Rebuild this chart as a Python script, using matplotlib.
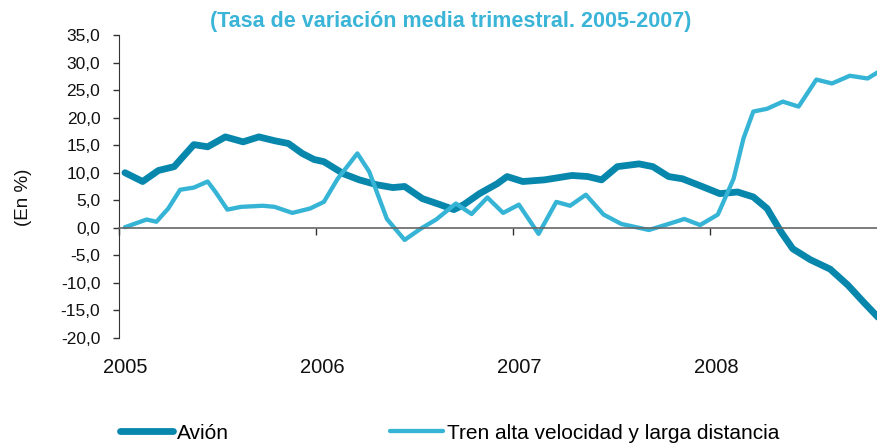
import matplotlib.pyplot as plt
import matplotlib.transforms as mtransforms
from matplotlib.ticker import FuncFormatter

plt.rcParams['font.family'] = ['Liberation Sans', 'DejaVu Sans']

# fecha (años fraccionarios) y tasa de variación (%)
x_avion = [2005.03, 2005.12, 2005.20, 2005.28, 2005.38, 2005.45, 2005.54, 2005.63,
           2005.71, 2005.79, 2005.86, 2005.93, 2005.99, 2006.04, 2006.14, 2006.22,
           2006.31, 2006.39, 2006.45, 2006.54, 2006.63, 2006.70, 2006.75, 2006.83,
           2006.92, 2006.97, 2007.05, 2007.16, 2007.30, 2007.38, 2007.45, 2007.53,
           2007.64, 2007.71, 2007.79, 2007.86, 2007.96, 2008.05, 2008.14, 2008.22,
           2008.29, 2008.36, 2008.42, 2008.51, 2008.61, 2008.70, 2008.78, 2008.86]
y_avion = [10.0, 8.4, 10.4, 11.1, 15.1, 14.7, 16.5, 15.6,
           16.5, 15.8, 15.3, 13.5, 12.4, 12.0, 9.8, 8.7,
           7.8, 7.3, 7.5, 5.3, 4.2, 3.3, 4.2, 6.2,
           8.0, 9.3, 8.4, 8.7, 9.5, 9.3, 8.7, 11.1,
           11.6, 11.1, 9.3, 8.9, 7.5, 6.2, 6.5, 5.6,
           3.5, -0.7, -3.8, -5.8, -7.5, -10.4, -13.5, -16.5]

x_tren = [2005.03, 2005.14, 2005.19, 2005.25, 2005.31, 2005.38, 2005.45, 2005.49,
          2005.55, 2005.62, 2005.73, 2005.79, 2005.88, 2005.97, 2006.04, 2006.11,
          2006.21, 2006.27, 2006.36, 2006.45, 2006.53, 2006.61, 2006.71, 2006.79,
          2006.87, 2006.95, 2007.03, 2007.13, 2007.22, 2007.29, 2007.37, 2007.46,
          2007.55, 2007.69, 2007.79, 2007.87, 2007.95, 2008.04, 2008.12, 2008.17,
          2008.22, 2008.29, 2008.37, 2008.45, 2008.54, 2008.62, 2008.71, 2008.80, 2008.86]
y_tren = [0.1, 1.5, 1.1, 3.5, 6.9, 7.3, 8.4, 6.5,
          3.3, 3.8, 4.0, 3.8, 2.7, 3.5, 4.7, 8.9,
          13.5, 10.2, 1.6, -2.2, -0.2, 1.5, 4.4, 2.5,
          5.5, 2.7, 4.2, -1.1, 4.7, 4.0, 6.0, 2.4,
          0.7, -0.4, 0.7, 1.6, 0.5, 2.4, 8.9, 16.2,
          21.1, 21.6, 22.9, 22.0, 26.9, 26.2, 27.6, 27.1, 28.4]

years = [2005, 2006, 2007, 2008]
labels = ['Avión', 'Tren alta velocidad y larga distancia']

c_avion = '#0887ad'
c_tren = '#36b4d6'

fig = plt.figure(figsize=(8.77, 4.46), dpi=100)
ax = fig.add_axes([0.1357, 0.2422, 0.8643, 0.6794])

ax.plot(x_avion, y_avion, color=c_avion, lw=4.9, solid_joinstyle='round',
        solid_capstyle='round', label=labels[0])
ax.plot(x_tren, y_tren, color=c_tren, lw=3.1, solid_joinstyle='round',
        solid_capstyle='round', label=labels[1])

ax.set_xlim(2005, 2008.848)
ax.set_ylim(-20, 35)
ax.set_yticks(range(-20, 36, 5))
ax.yaxis.set_major_formatter(FuncFormatter(lambda v, p: f'{v:.1f}'.replace('.', ',')))
ax.tick_params(axis='y', direction='out', length=4.5, width=1, color='#333333',
               labelsize=12.5, pad=9, labelcolor='#111111')

ax.spines['top'].set_visible(False)
ax.spines['right'].set_visible(False)
ax.spines['left'].set_color('#333333')
ax.spines['bottom'].set_position(('data', 0))
ax.spines['bottom'].set_color('#666666')
ax.spines['bottom'].set_linewidth(1.2)
ax.set_xticks(years)
ax.tick_params(axis='x', direction='out', length=5, width=1, color='#333333',
               labelbottom=False)

trans = mtransforms.blended_transform_factory(ax.transData, ax.transAxes)
for yr in years:
    ax.text(yr + 0.03, -0.099, str(yr), transform=trans, ha='center', va='center',
            fontsize=14.5, color='#111111')

ax.set_ylabel('(En %)', fontsize=13.5, color='#111111')
ax.yaxis.set_label_coords(-0.115, 0.465)

fig.text(0.514, 0.951, '(Tasa de variación media trimestral. 2005-2007)',
         ha='center', va='center', fontsize=15.5, fontweight='bold', color='#3ab4d7')

leg = ax.legend(loc='center left', bbox_to_anchor=(0.1368, 0.029),
                bbox_transform=fig.transFigure, ncol=2, frameon=False,
                fontsize=15, handlelength=2.55, handletextpad=0.2,
                columnspacing=7.7, borderaxespad=0, borderpad=0)

fig.savefig('out.png', dpi=100)
